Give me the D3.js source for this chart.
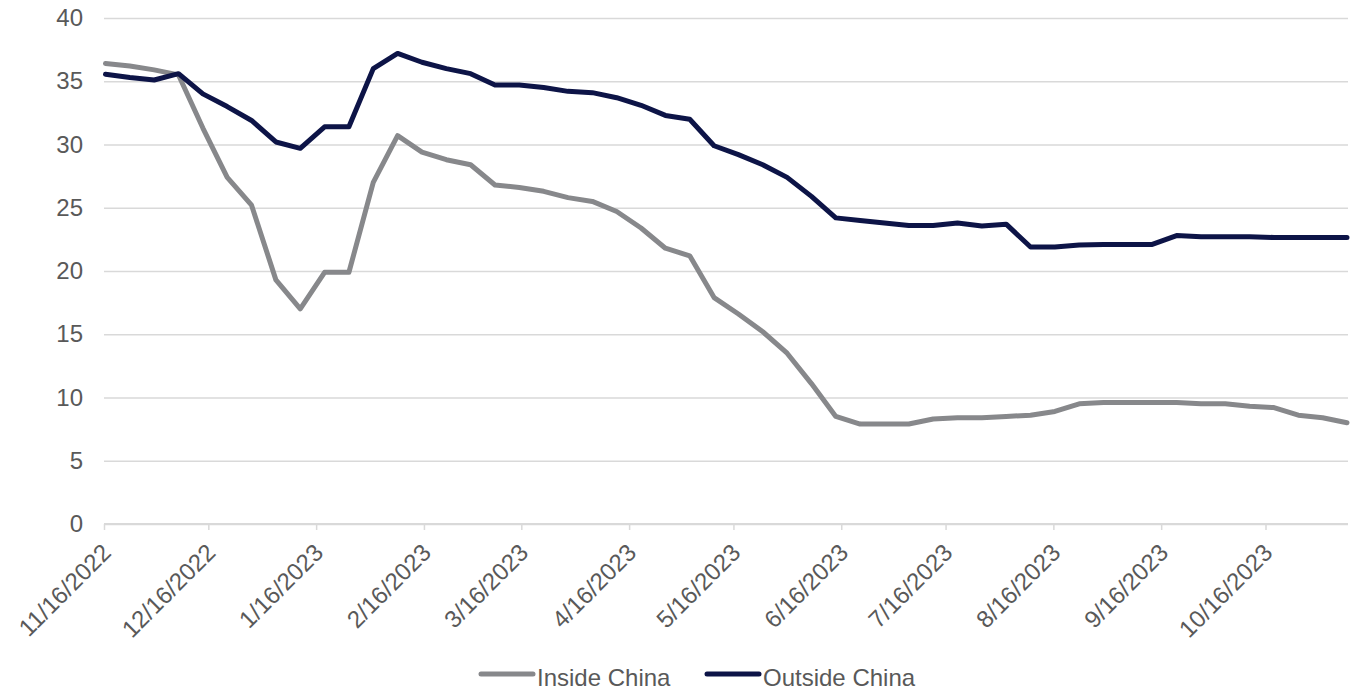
<!DOCTYPE html>
<html>
<head>
<meta charset="utf-8">
<script src="https://cdn.jsdelivr.net/npm/d3@7"></script>
<style>
  html, body { margin: 0; padding: 0; background: #fff; }
  svg { display: block; font-family: "Liberation Sans", Arial, sans-serif; }
</style>
</head>
<body>
<svg id="chart" width="1355" height="691"></svg>
<script>
// ---- data ----
const dates = [
  "11/16/2022","11/23/2022","11/30/2022","12/7/2022","12/14/2022","12/21/2022","12/28/2022",
  "1/4/2023","1/11/2023","1/18/2023","1/25/2023","2/1/2023","2/8/2023","2/15/2023","2/22/2023",
  "3/1/2023","3/8/2023","3/15/2023","3/22/2023","3/29/2023","4/5/2023","4/12/2023","4/19/2023","4/26/2023",
  "5/3/2023","5/10/2023","5/17/2023","5/24/2023","5/31/2023","6/7/2023","6/14/2023","6/21/2023","6/28/2023",
  "7/5/2023","7/12/2023","7/19/2023","7/26/2023","8/2/2023","8/9/2023","8/16/2023","8/23/2023","8/30/2023",
  "9/6/2023","9/13/2023","9/20/2023","9/27/2023","10/4/2023","10/11/2023","10/18/2023","10/25/2023",
  "11/1/2023","11/8/2023"
];
const insideChina = [
  36.4, 36.2, 35.9, 35.5, 31.3, 27.4, 25.2, 19.3, 17.0, 19.9, 19.9, 27.0, 30.7, 29.4, 28.8,
  28.4, 26.8, 26.6, 26.3, 25.8, 25.5, 24.7, 23.4, 21.8, 21.2, 17.9, 16.6, 15.2, 13.5, 11.1,
  8.5, 7.9, 7.9, 7.9, 8.3, 8.4, 8.4, 8.5, 8.6, 8.9, 9.5, 9.6, 9.6, 9.6, 9.6, 9.5, 9.5,
  9.3, 9.2, 8.6, 8.4, 8.0
];
const outsideChina = [
  35.55, 35.3, 35.1, 35.6, 34.0, 33.0, 31.9, 30.2, 29.7, 31.4, 31.4, 36.0, 37.2, 36.5, 36.0,
  35.6, 34.7, 34.7, 34.5, 34.2, 34.1, 33.7, 33.1, 32.3, 32.0, 29.9, 29.2, 28.4, 27.4, 25.9,
  24.2, 24.0, 23.8, 23.6, 23.6, 23.8, 23.55, 23.7, 21.9, 21.9, 22.05, 22.1, 22.1, 22.1, 22.8,
  22.7, 22.7, 22.7, 22.65, 22.65, 22.65, 22.65
];
const xTickLabels = ["11/16/2022","12/16/2022","1/16/2023","2/16/2023","3/16/2023","4/16/2023",
  "5/16/2023","6/16/2023","7/16/2023","8/16/2023","9/16/2023","10/16/2023"];
const yTicks = [0, 5, 10, 15, 20, 25, 30, 35, 40];
const seriesNames = ["Inside China", "Outside China"];
const seriesColors = ["#87888b", "#0d1447"];

// ---- layout ----
const parse = d3.utcParse("%m/%d/%Y");
const fmt = d3.utcFormat("%-m/%-d/%Y");
const plotLeft = 104, plotRight = 1348, plotTop = 18, plotBottom = 524;
const textColor = "#595959", gridColor = "#d9d9d9";
const fontSize = 24;

const svg = d3.select("#chart");

const x = d3.scaleUtc()
  .domain([parse(xTickLabels[0]), parse(xTickLabels[xTickLabels.length - 1])])
  .range([104, 1265.5]);
const y = d3.scaleLinear().domain([0, 40]).range([plotBottom, plotTop]);

// gridlines + y labels
const yAxis = svg.append("g")
  .attr("transform", `translate(${plotLeft},0)`)
  .call(d3.axisLeft(y).tickValues(yTicks).tickSize(-(plotRight - plotLeft)).tickPadding(21).tickFormat(d3.format("d")));
yAxis.select(".domain").remove();
yAxis.selectAll(".tick line").attr("stroke", gridColor).attr("stroke-width", 1.5);
yAxis.selectAll(".tick text").attr("fill", textColor).style("font-size", fontSize + "px")
  .style("font-family", '"Liberation Sans", Arial, sans-serif');

// x axis
const xAxis = svg.append("g")
  .attr("transform", `translate(0,${plotBottom})`)
  .call(d3.axisBottom(x).tickValues(xTickLabels.map(parse)).tickSize(6).tickSizeOuter(0).tickFormat(fmt));
xAxis.select(".domain").attr("d", `M${plotLeft},0H${plotRight}`).attr("stroke", gridColor).attr("stroke-width", 2);
xAxis.selectAll(".tick line").attr("stroke", gridColor).attr("stroke-width", 1.5);
xAxis.selectAll(".tick text")
  .attr("fill", textColor)
  .style("font-size", fontSize + "px")
  .style("font-family", '"Liberation Sans", Arial, sans-serif')
  .attr("text-anchor", "end")
  .attr("y", 0).attr("dy", 0)
  .attr("transform", "translate(8,30) rotate(-45)");

// lines
const pts = dates.map(parse);
const line = d3.line().x((d, i) => x(pts[i]) + 1.5).y(d => y(d));
[insideChina, outsideChina].forEach((s, i) => {
  svg.append("path")
    .datum(s)
    .attr("d", line)
    .attr("fill", "none")
    .attr("stroke", seriesColors[i])
    .attr("stroke-width", 5)
    .attr("stroke-linejoin", "round")
    .attr("stroke-linecap", "round");
});

// legend
const legendX = [479, 705];
const legend = svg.append("g");
seriesNames.forEach((name, i) => {
  const g = legend.append("g").attr("transform", `translate(${legendX[i]},674)`);
  g.append("line").attr("x1", 2).attr("x2", 54).attr("y1", 0).attr("y2", 0)
    .attr("stroke", seriesColors[i]).attr("stroke-width", 5).attr("stroke-linecap", "round");
  g.append("text").attr("x", 58).attr("y", 12)
    .attr("fill", textColor).style("font-size", fontSize + "px").text(name);
});
</script>
</body>
</html>
